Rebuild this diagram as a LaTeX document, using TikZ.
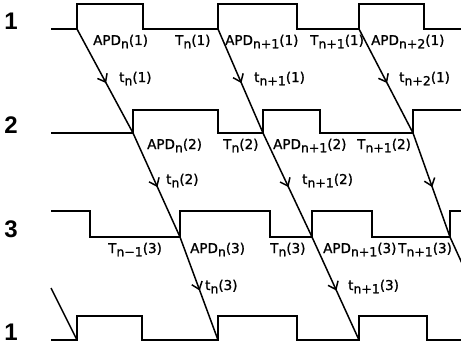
\documentclass[tikz,border=0pt]{standalone}
\usepackage{fontspec}
\setmainfont{DejaVu Sans}[FakeBold=1.2]
\setsansfont{Liberation Sans}
\usetikzlibrary{arrows.meta,decorations.markings}
\newcommand\lo[1]{\raisebox{-0.45ex}{\fontsize{12.5}{12.5}\selectfont #1}}
\begin{document}
\begin{tikzpicture}[x=1pt,y=-1pt,
  pulse/.style={line width=2.3pt, line join=miter},
  link/.style={line width=1.5pt, postaction={decorate},
    decoration={markings, mark=at position 0.52 with {\arrow{Straight Barb[length=7pt,width=11pt,line width=1.5pt]}}}},
  plain/.style={line width=1.5pt},
  lbl/.style={font=\fontsize{13.5}{13.5}\selectfont, anchor=base west, inner sep=0pt},
  num/.style={font=\fontsize{24}{24}\selectfont\sffamily\bfseries, anchor=base, inner sep=0pt}]
\useasboundingbox (0,0) rectangle (461,348);
\clip (0,0) rectangle (461,348);
% rise points
\coordinate (r1a) at (77,29);  \coordinate (r1b) at (218,29);  \coordinate (r1c) at (359,29);
\coordinate (r2a) at (133,133); \coordinate (r2b) at (263,133); \coordinate (r2c) at (413,133);
\coordinate (r3a) at (180,237); \coordinate (r3b) at (312,237); \coordinate (r3c) at (450,237);
\coordinate (r4a) at (77,340);  \coordinate (r4b) at (218,340); \coordinate (r4c) at (359,340);
\coordinate (r4x) at (497,340); \coordinate (r3x) at (51,288);
% row labels
\node[num] (n1) at (11,29) {1};
\node[num] (n2) at (11,133) {2};
\node[num] (n3) at (11,237) {3};
\node[num] (n4) at (11,340) {1};
% pulse trains
\draw[pulse] (51,29) -- (r1a) -- (77,4) -- (143,4) -- (143,29) -- (r1b) -- (218,4) -- (297,4) -- (297,29) -- (r1c) -- (359,4) -- (424,4) -- (424,29) -- (461,29);
\draw[pulse] (51,133) -- (r2a) -- (133,110) -- (218,110) -- (218,133) -- (r2b) -- (263,110) -- (320,110) -- (320,133) -- (r2c) -- (413,110) -- (461,110);
\draw[pulse] (51,211) -- (90,211) -- (90,237) -- (r3a) -- (180,211) -- (270,211) -- (270,237) -- (r3b) -- (312,211) -- (372,211) -- (372,237) -- (r3c) -- (450,211) -- (461,211);
\draw[pulse] (51,340) -- (r4a) -- (77,316) -- (142,316) -- (142,340) -- (r4b) -- (218,316) -- (297,316) -- (297,340) -- (r4c) -- (359,316) -- (427,316) -- (427,340) -- (461,340);
% propagation arrows
\draw[link] (r1a) -- (r2a);
\draw[link] (r1b) -- (r2b);
\draw[link] (r1c) -- (r2c);
\draw[link] (r2a) -- (r3a);
\draw[link] (r2b) -- (r3b);
\draw[link] (r2c) -- (r3c);
\draw[link] (r3a) -- (r4b);
\draw[link] (r3b) -- (r4c);
\draw[plain] (r3c) -- (r4x);
\draw[plain] (r3x) -- (r4a);
% row 1 labels
\node[lbl] (a11) at (93,45) {APD\lo{n}(1)};
\node[lbl] (t11) at (175,45) {T\lo{n}(1)};
\node[lbl] (a12) at (225,45) {APD\lo{n+1}(1)};
\node[lbl] (t12) at (310,45) {T\lo{n+1}(1)};
\node[lbl] (a13) at (371,45) {APD\lo{n+2}(1)};
\node[lbl] (c11) at (119,82) {t\lo{n}(1)};
\node[lbl] (c12) at (254,82) {t\lo{n+1}(1)};
\node[lbl] (c13) at (399,82) {t\lo{n+2}(1)};
% row 2 labels
\node[lbl] (a21) at (147,149) {APD\lo{n}(2)};
\node[lbl] (t21) at (223,149) {T\lo{n}(2)};
\node[lbl] (a22) at (273,149) {APD\lo{n+1}(2)};
\node[lbl] (t22) at (357,149) {T\lo{n+1}(2)};
\node[lbl] (c21) at (166,184) {t\lo{n}(2)};
\node[lbl] (c22) at (302,184) {t\lo{n+1}(2)};
% row 3 labels
\node[lbl] (t30) at (108,253) {T\lo{n−1}(3)};
\node[lbl] (a31) at (190,253) {APD\lo{n}(3)};
\node[lbl] (t31) at (270,253) {T\lo{n}(3)};
\node[lbl] (a32) at (323,253) {APD\lo{n+1}(3)};
\node[lbl] (t32) at (398,253) {T\lo{n+1}(3)};
\node[lbl] (c31) at (205,290) {t\lo{n}(3)};
\node[lbl] (c32) at (348,290) {t\lo{n+1}(3)};
\end{tikzpicture}
\end{document}
